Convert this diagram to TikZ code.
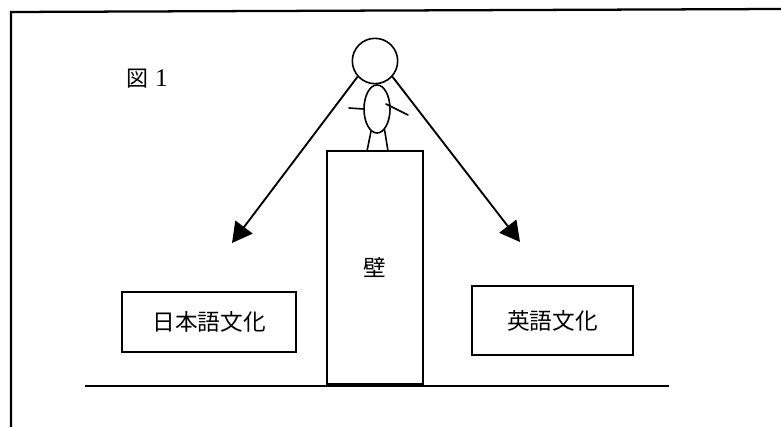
\documentclass[tikz,border=0pt]{standalone}
\usepackage{fontspec}
\setmainfont{Liberation Serif}
\newfontfamily\jpfont{Noto Sans CJK JP}
\usetikzlibrary{shapes.geometric,arrows.meta}
\begin{document}
\begin{tikzpicture}[x=0.75pt,y=-0.75pt,
  ink/.style={line width=1.2pt,line cap=round},
  frameline/.style={line width=1.7pt},
  culture/.style={draw,line width=1.2pt,inner sep=0pt,font=\jpfont\fontsize{17pt}{20pt}\selectfont},
  wallbox/.style={draw,line width=1.6pt,inner sep=0pt,minimum width=72pt,minimum height=174.75pt,font=\jpfont\fontsize{17pt}{20pt}\selectfont},
  arr/.style={line width=1.4pt,-{Triangle[length=15pt,width=16pt]}}]
\useasboundingbox (0,0) rectangle (781,427);
\fill[white] (0,0) rectangle (781,427);

% outer frame: only left and top edges
\coordinate (fbl) at (11,427);
\coordinate (ftl) at (11,12);
\coordinate (ftr) at (781,9);
\draw[frameline] (fbl) -- (ftl) -- (ftr);

% caption
\node[inner sep=0pt] (cap) at (147,79) {\jpfont\fontsize{16.5pt}{18pt}\selectfont 図\hspace{5pt}\fontspec{Liberation Serif}\fontsize{19pt}{20pt}\selectfont 1};

% ground line
\coordinate (gl) at (85,386);
\coordinate (gr) at (669,386);
\draw[line width=1.3pt] (gl) -- (gr);

% wall
\node[wallbox] (wall) at (375,267.5) {壁};

% culture boxes
\node[culture,minimum width=130.5pt,minimum height=45pt] (jp) at (209,322) {日本語文化};
\node[culture,minimum width=120.75pt,minimum height=51.75pt] (en) at (552.5,320.5) {英語文化};

% person standing on the wall
\node[ink,draw,circle,minimum size=34pt,inner sep=0pt] (head) at (375,61) {};
\node[ink,draw,ellipse,minimum width=19.5pt,minimum height=36pt,inner sep=0pt] (body) at (377,109) {};
\coordinate (lhand) at (349,108);
\coordinate (rhand) at (408,115);
\coordinate (rshoulder) at (386,104);
\coordinate (lfoot) at (367,151);
\coordinate (rfoot) at (388,151);
\draw[ink] (body.west) -- (lhand);
\draw[ink] (rshoulder) -- (rhand);
\draw[ink] (body.255) -- (lfoot);
\draw[ink] (body.290) -- (rfoot);

% lines of sight
\coordinate (ltip) at (232,243);
\coordinate (rtip) at (520,242);
\draw[arr] (head.222) -- (ltip);
\draw[arr] (head.318) -- (rtip);
\end{tikzpicture}
\end{document}
